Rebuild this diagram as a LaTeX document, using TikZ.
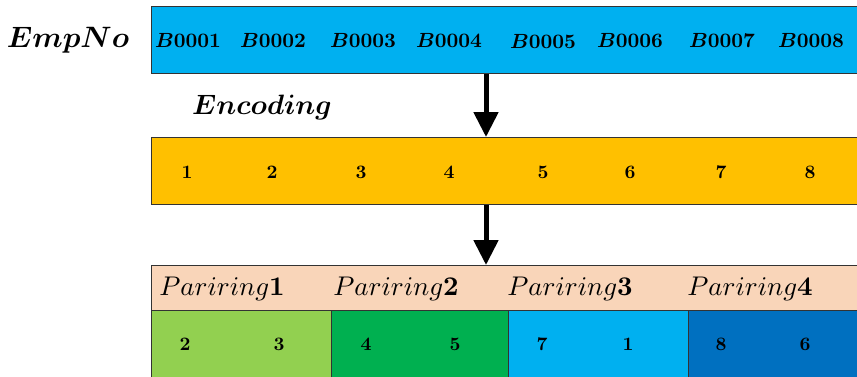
\documentclass[tikz,border=0pt]{standalone}
\usepackage{amsmath,bm}
\usetikzlibrary{arrows.meta}
\definecolor{cBlue}{HTML}{00B0F0}
\definecolor{cYellow}{HTML}{FFC000}
\definecolor{cPeach}{HTML}{F9D5B9}
\definecolor{cLGreen}{HTML}{92D050}
\definecolor{cGreen}{HTML}{00B050}
\definecolor{cDBlue}{HTML}{0070C0}
\begin{document}
\begin{tikzpicture}[x=1pt,y=-1pt,
  box/.style={draw=black!80, line width=0.8pt, inner sep=0pt, anchor=north west},
  lbl/.style={inner sep=0pt, scale=2.05},
  num/.style={inner sep=0pt, scale=1.9},
  big/.style={inner sep=0pt},
  bigarrow/.style={line width=5pt, -{Triangle[width=24pt,length=25pt]}}]
\useasboundingbox (0,0) rectangle (857,376);
\clip (0,0) rectangle (857,376);
% boxes
\node[box, fill=cBlue, minimum width=720pt, minimum height=67pt] (emp) at (151,6) {};
\node[box, fill=cYellow, minimum width=720pt, minimum height=67pt] (enc) at (151,137) {};
\node[box, fill=cPeach, minimum width=720pt, minimum height=45pt] (par) at (151,265) {};
\node[box, fill=cLGreen, minimum width=180pt, minimum height=80pt] (c1) at (151,310) {};
\node[box, fill=cGreen, minimum width=177pt, minimum height=80pt] (c2) at (331,310) {};
\node[box, fill=cBlue, minimum width=180pt, minimum height=80pt] (c3) at (508,310) {};
\node[box, fill=cDBlue, minimum width=190pt, minimum height=80pt] (c4) at (688,310) {};
% arrows
\coordinate (ax) at (486,0);
\draw[bigarrow] (emp.south -| ax) -- (enc.north -| ax);
\draw[bigarrow] (enc.south -| ax) -- (par.north -| ax);
% side labels
\node[big, scale=2.95] (lemp) at (68,40) {$\boldsymbol{EmpNo}$};
\node[big, scale=2.8] (lenc) at (262,107) {$\boldsymbol{Encoding}$};
% emp labels
\node[lbl] (b1) at (188,40) {$\boldsymbol{B0001}$};
\node[lbl] (b2) at (273,40) {$\boldsymbol{B0002}$};
\node[lbl] (b3) at (363,40) {$\boldsymbol{B0003}$};
\node[lbl] (b4) at (449,40) {$\boldsymbol{B0004}$};
\node[lbl] (b5) at (543,41) {$\boldsymbol{B0005}$};
\node[lbl] (b6) at (630,40) {$\boldsymbol{B0006}$};
\node[lbl] (b7) at (722,40) {$\boldsymbol{B0007}$};
\node[lbl] (b8) at (811,40) {$\boldsymbol{B0008}$};
% encoded numbers
\node[num] (n1) at (187,172) {$\mathbf{1}$};
\node[num] (n2) at (272,172) {$\mathbf{2}$};
\node[num] (n3) at (361,172) {$\mathbf{3}$};
\node[num] (n4) at (449,172) {$\mathbf{4}$};
\node[num] (n5) at (543,172) {$\mathbf{5}$};
\node[num] (n6) at (630,172) {$\mathbf{6}$};
\node[num] (n7) at (721,172) {$\mathbf{7}$};
\node[num] (n8) at (810,172) {$\mathbf{8}$};
% pairing labels
\node[big, scale=2.7] (p1) at (222,289) {$Pariring\mathbf{1}$};
\node[big, scale=2.7] (p2) at (396,289) {$Pariring\mathbf{2}$};
\node[big, scale=2.7] (p3) at (570,289) {$Pariring\mathbf{3}$};
\node[big, scale=2.7] (p4) at (750,289) {$Pariring\mathbf{4}$};
% pair numbers
\node[num] (q1) at (185,344) {$\mathbf{2}$};
\node[num] (q2) at (279,344) {$\mathbf{3}$};
\node[num] (q3) at (366,344) {$\mathbf{4}$};
\node[num] (q4) at (455,344) {$\mathbf{5}$};
\node[num] (q5) at (542,344) {$\mathbf{7}$};
\node[num] (q6) at (628,344) {$\mathbf{1}$};
\node[num] (q7) at (721,344) {$\mathbf{8}$};
\node[num] (q8) at (805,344) {$\mathbf{6}$};
\end{tikzpicture}
\end{document}
